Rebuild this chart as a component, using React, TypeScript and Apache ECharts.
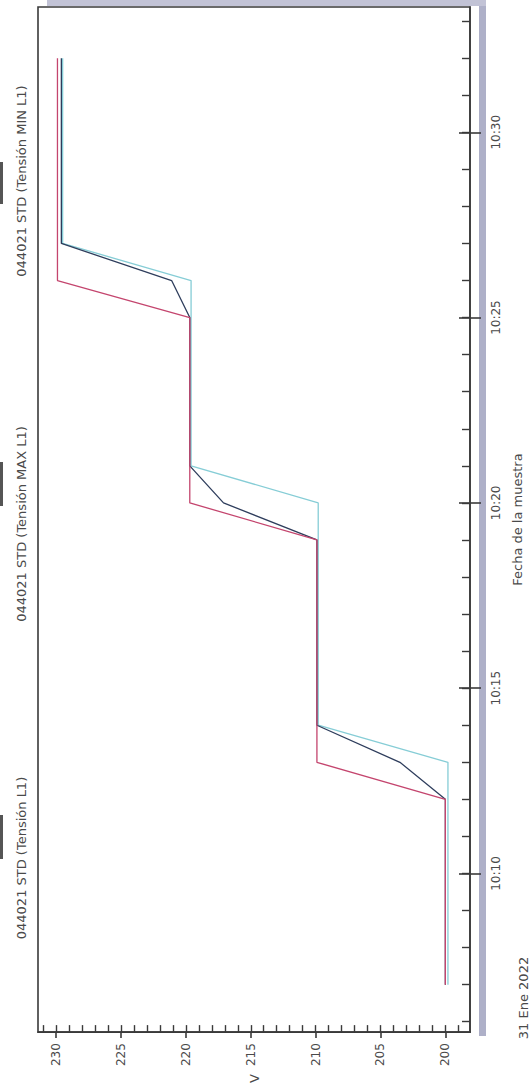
import React, { useEffect, useRef } from "react";
import * as echarts from "echarts";

// ---- data (one sample per minute) ----
const times = [
  "10:07", "10:08", "10:09", "10:10", "10:11", "10:12", "10:13", "10:14", "10:15",
  "10:16", "10:17", "10:18", "10:19", "10:20", "10:21", "10:22", "10:23", "10:24",
  "10:25", "10:26", "10:27", "10:28", "10:29", "10:30", "10:31", "10:32",
];
const tensionL1 = [
  200, 200, 200, 200, 200, 200, 203.5, 209.9, 209.9,
  209.9, 209.9, 209.9, 209.9, 217.1, 219.7, 219.7, 219.7, 219.7,
  219.7, 221.1, 229.6, 229.6, 229.6, 229.6, 229.6, 229.6,
];
const tensionMax = [
  200, 200, 200, 200, 200, 200, 209.9, 209.9, 209.9,
  209.9, 209.9, 209.9, 209.9, 219.7, 219.7, 219.7, 219.7, 219.7,
  219.7, 229.9, 229.9, 229.9, 229.9, 229.9, 229.9, 229.9,
];
const tensionMin = [
  199.8, 199.8, 199.8, 199.8, 199.8, 199.8, 199.8, 209.8, 209.8,
  209.8, 209.8, 209.8, 209.8, 209.8, 219.6, 219.6, 219.6, 219.6,
  219.6, 219.6, 229.5, 229.5, 229.5, 229.5, 229.5, 229.5,
];
const seriesNames = [
  "044021 STD (Tensión L1)",
  "044021 STD (Tensión MAX L1)",
  "044021 STD (Tensión MIN L1)",
];
const voltTicks = [200, 205, 210, 215, 220, 225, 230];
const voltMinorTicks = [
  199, 200, 201, 202, 203, 204, 205, 206, 207, 208, 209, 210, 211, 212, 213, 214,
  215, 216, 217, 218, 219, 220, 221, 222, 223, 224, 225, 226, 227, 228, 229, 230, 231,
];
const timeTicks = ["10:10", "10:15", "10:20", "10:25", "10:30"];
const timeMinorTicks = [
  "10:06", "10:07", "10:08", "10:09", "10:10", "10:11", "10:12", "10:13", "10:14",
  "10:15", "10:16", "10:17", "10:18", "10:19", "10:20", "10:21", "10:22", "10:23",
  "10:24", "10:25", "10:26", "10:27", "10:28", "10:29", "10:30", "10:31", "10:32", "10:33",
];
const voltAxisName = "V";
const timeAxisName = "Fecha de la muestra";
const dateLabel = "31 Ene 2022";

const toMin = (s: string) => {
  const [h, m] = s.split(":").map(Number);
  return (h - 10) * 60 + m;
};
const fmtTime = (v: number) => {
  const h = 10 + Math.floor(v / 60);
  const m = Math.round(v - (h - 10) * 60);
  return `${h}:${String(m).padStart(2, "0")}`;
};

const FONT = "DejaVu Sans";
const TXT = "#4a4a4a";
const AX = "#3a3a3a";

export default function App() {
  const ref = useRef<HTMLDivElement>(null);
  useEffect(() => {
    if (!ref.current) return;
    const chart = echarts.init(ref.current, null, { renderer: "svg" });
    const V_MIN = 198.1;
    const V_MAX = 231.4;
    const T_MIN = 5.72;
    const T_MAX = 33.38;
    const mk = (vals: number[]) => vals.map((v, i) => [v, toMin(times[i])]);
    const common = { type: "value", min: V_MIN, max: V_MAX, inverse: true, position: "bottom", splitLine: { show: false } };
    const tcommon = { type: "value", min: T_MIN, max: T_MAX, position: "right", splitLine: { show: false } };
    const option: any = {
      animation: false,
      backgroundColor: "#ffffff",
      grid: { left: 38, right: 54, top: 7, bottom: 52, show: true, borderColor: AX, borderWidth: 1.6, backgroundColor: "#fff" },
      xAxis: [
        {
          ...common,
          name: voltAxisName,
          nameLocation: "middle",
          nameGap: 42,
          nameRotate: 90,
          nameTextStyle: { fontFamily: FONT, fontSize: 13, color: TXT },
          axisLine: { show: true, lineStyle: { color: AX, width: 1.6 } },
          axisTick: { show: true, inside: true, length: 7, customValues: voltMinorTicks, lineStyle: { color: AX, width: 1.4 } },
          axisLabel: { show: true, rotate: 90, margin: 11, customValues: voltTicks, fontFamily: FONT, fontSize: 12, color: TXT },
        },
        {
          ...common,
          axisLine: { show: false },
          axisTick: { show: true, inside: false, length: 6, customValues: voltTicks, lineStyle: { color: AX, width: 1.6 } },
          axisLabel: { show: false },
        },
      ],
      yAxis: [
        {
          ...tcommon,
          name: timeAxisName,
          nameLocation: "middle",
          nameGap: 41,
          nameRotate: 90,
          nameTextStyle: { fontFamily: FONT, fontSize: 13, color: TXT },
          axisLine: { show: true, lineStyle: { color: AX, width: 1.6 } },
          axisTick: { show: true, inside: true, length: 8, customValues: timeMinorTicks.map(toMin), lineStyle: { color: AX, width: 1.4 } },
          axisLabel: { show: true, rotate: 90, margin: 20, customValues: timeTicks.map(toMin), formatter: (v: number) => fmtTime(v), fontFamily: FONT, fontSize: 12, color: TXT },
        },
        {
          ...tcommon,
          axisLine: { show: false },
          axisTick: { show: true, inside: true, length: 11, customValues: timeTicks.map(toMin), lineStyle: { color: AX, width: 1.6 } },
          axisLabel: { show: false },
        },
        {
          ...tcommon,
          axisLine: { show: false },
          axisTick: { show: true, inside: false, length: 11, customValues: timeTicks.map(toMin), lineStyle: { color: AX, width: 1.6 } },
          axisLabel: { show: false },
        },
      ],
      series: [
        { name: seriesNames[2], type: "line", data: mk(tensionMin), symbol: "none", lineStyle: { color: "#86cdd6", width: 1.3 }, z: 2 },
        { name: seriesNames[0], type: "line", data: mk(tensionL1), symbol: "none", lineStyle: { color: "#2e3d5c", width: 1.3 }, z: 3 },
        { name: seriesNames[1], type: "line", data: mk(tensionMax), symbol: "none", lineStyle: { color: "#c4456e", width: 1.3 }, z: 4 },
      ],
      graphic: [
        { type: "rect", shape: { x: 479, y: 4, width: 7, height: 1032 }, style: { fill: "#aeb0c8" }, z: -1 },
        { type: "rect", shape: { x: 47, y: 0, width: 439, height: 6 }, style: { fill: "#c2c3d6" }, z: -1 },
        { type: "rect", shape: { x: 0, y: 162, width: 3, height: 42 }, style: { fill: "#555" } },
        { type: "rect", shape: { x: 0, y: 462, width: 3, height: 44 }, style: { fill: "#555" } },
        { type: "rect", shape: { x: 0, y: 815, width: 3, height: 44 }, style: { fill: "#555" } },
        { type: "text", x: 21, y: 181, rotation: Math.PI / 2, style: { text: seriesNames[2], fontFamily: FONT, fontSize: 13, fill: TXT, align: "center", verticalAlign: "middle" } },
        { type: "text", x: 21, y: 524, rotation: Math.PI / 2, style: { text: seriesNames[1], fontFamily: FONT, fontSize: 13, fill: TXT, align: "center", verticalAlign: "middle" } },
        { type: "text", x: 21, y: 858, rotation: Math.PI / 2, style: { text: seriesNames[0], fontFamily: FONT, fontSize: 13, fill: TXT, align: "center", verticalAlign: "middle" } },
        { type: "text", x: 523, y: 998, rotation: Math.PI / 2, style: { text: dateLabel, fontFamily: FONT, fontSize: 13, fill: TXT, align: "center", verticalAlign: "middle" } },
      ],
    };
    chart.setOption(option);
    return () => chart.dispose();
  }, []);
  return <div ref={ref} style={{ position: "fixed", left: 0, top: 0, width: 532, height: 1086, background: "#fff" }} />;
}
